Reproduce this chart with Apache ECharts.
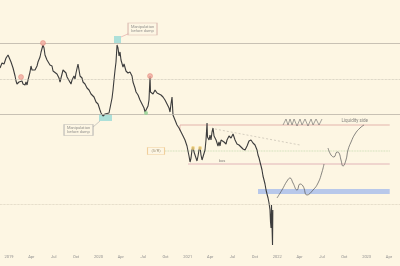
<!DOCTYPE html>
<html><head><meta charset="utf-8">
<script src="https://cdn.jsdelivr.net/npm/echarts@6/dist/echarts.min.js"></script>
<style>html,body{margin:0;padding:0;background:#fdf6e3}#c{width:400px;height:266px}</style>
</head><body><div id="c"></div>
<script>
// price path: [month since Jan 2019, price]
const price = [[-1.21,182],[-0.94,187],[-0.67,186],[-0.40,192],[-0.13,195],[0,196],[0.13,193],[0.27,188],[0.54,182],[0.81,174],[0.94,169],[1.07,166],[1.21,164],[1.34,168],[1.48,166],[1.74,169],[1.88,166],[2.15,165],[2.28,168],[2.42,165],[2.55,170],[2.82,178],[2.95,184],[3.09,180],[3.22,182],[3.49,180],[3.76,184],[3.89,188],[4.16,193],[4.30,198],[4.56,205],[4.70,202],[4.83,195],[5.10,190],[5.23,192],[5.50,185],[5.77,184],[5.91,179],[6.17,180],[6.44,176],[6.71,172],[6.85,168],[6.98,172],[7.25,180],[7.38,182],[7.65,177],[7.79,173],[8.05,171],[8.32,166],[8.46,170],[8.72,174],[8.86,171],[8.99,177],[9.26,186],[9.40,180],[9.53,174],[9.80,172],[9.93,168],[10.20,166],[10.47,162],[10.74,160],[11.01,156],[11.14,154],[11.41,153],[11.68,148],[11.81,150],[11.95,146],[12.21,140],[12.35,137],[12.62,134],[12.89,136],[13.15,134],[13.42,137],[13.56,142],[13.83,152],[13.96,160],[14.09,170],[14.23,180],[14.36,188],[14.50,205],[14.63,202],[14.77,194],[14.90,198],[15.03,190],[15.30,183],[15.44,186],[15.70,179],[15.97,177],[16.24,178],[16.51,174],[16.64,168],[16.91,162],[17.05,158],[17.32,155],[17.58,150],[17.85,146],[18.12,142],[18.26,138],[18.39,137],[18.52,140],[18.66,144],[18.79,150],[18.93,174],[18.99,158],[19.19,160],[19.33,156],[19.60,160],[19.87,157],[20.13,159],[20.40,155],[20.67,153],[20.94,150],[21.21,146],[21.48,142],[21.61,138],[21.74,146],[21.88,153],[22.01,135],[22.28,130],[22.55,125],[22.82,122],[23.09,118],[23.36,114],[23.62,110],[23.89,104],[24.16,94],[24.30,88],[24.43,92],[24.56,100],[24.70,103],[24.83,98],[25.10,92],[25.23,89],[25.37,94],[25.50,100],[25.64,103],[25.77,95],[25.91,90],[26.04,88],[26.17,90],[26.31,100],[26.44,110],[26.58,127],[26.64,113],[26.85,110],[26.98,115],[27.11,110],[27.25,118],[27.38,122],[27.52,114],[27.79,110],[28.05,104],[28.19,108],[28.32,104],[28.46,110],[28.72,112],[28.86,108],[29.13,106],[29.26,110],[29.53,114],[29.80,112],[30.07,116],[30.34,110],[30.60,106],[30.87,105],[31.14,103],[31.41,101],[31.68,100],[31.95,104],[32.21,109],[32.48,110],[32.75,107],[33.02,105],[33.29,100],[33.42,95],[33.56,92],[33.69,88],[33.83,84],[33.96,80],[34.09,74],[34.23,70],[34.36,66],[34.50,60],[34.63,56],[34.77,52],[34.90,47],[35.03,40],[35.10,28],[35.17,22],[35.23,45],[35.30,47],[35.37,5],[35.41,40]];

const tickMonths = [0,3,6,9,12,15,18,21,24,27,30,33,36,39,42,45,48,51];
const tickLabels = ['2019','Apr','Jul','Oct','2020','Apr','Jul','Oct','2021','Apr','Jul','Oct','2022','Apr','Jul','Oct','2023','Apr'];

const fullLevels = [207, 171, 136, 46];
const redLevel = 125, srLevel = 99, bosLevel = 86;
const redStart = 22.95, srStart = 20.94, bosStart = 24.03, zoneEnd = 51.1;
const demandZone = [56, 61], demandStart = 33.42;
const trendline = [[27.65,121],[39.06,105]];
const projection1 = [[35.97,52],[36.64,60],[37.32,69],[37.72,72],[38.12,67],[38.66,60],[39.06,66],[39.46,64],[40.00,55],[40.81,60],[41.48,67],[42.01,78],[42.28,86]];
const projection2 = [[42.82,102],[43.22,95],[43.62,93],[44.03,98],[44.30,97],[44.56,90],[44.83,84],[45.23,90],[45.50,100],[45.91,108],[46.44,116],[47.11,122],[47.65,125]];
const zigzag = [[36.78,125],[37.18,131],[37.45,125],[37.72,131],[37.99,125],[38.26,131],[38.66,124],[39.06,131],[39.33,125],[39.73,131],[40.13,124],[40.54,131],[40.81,125],[41.21,131],[41.61,125],[42.01,131]];
const redDots = [[4.56,207],[1.61,173],[18.93,174]];
const greenDots = [[18.39,137]];
const yellowDots = [[24.70,102],[25.64,102]];
const cyanMarks = [[14.56,210.5],[12.95,132.5]];
const noteTop = [17.92,221], noteBottom = [9.33,120], noteSR = [19.73,99];
const connTop = [[16.24,217],[15.03,213]], connBottom = [[11.28,123],[12.21,129]];
const bosText = [28.59,89], liqText = [46.4,129];

const chart = echarts.init(document.getElementById('c'), null, {renderer:'canvas'});
const thin = (c, w, t) => ({color:c, width:w, type:t||'solid'});
const seg = (data, c, w, t, extra) => Object.assign({type:'line', data, symbol:'none', silent:true, lineStyle:thin(c,w,t), z:3, animation:false}, extra||{});
const note = (pos, text, w, h, border, color) => ({type:'scatter', data:[pos], symbol:'rect', symbolSize:[w,h], silent:true, z:6,
  itemStyle:{color:'#fdf6e3', borderColor:border, borderWidth:0.7},
  label:{show:true, position:'inside', formatter:text, fontSize:4, lineHeight:4.5, color:color||'#777', fontFamily:'Roboto'}});
const textAt = (pos, text, size) => ({type:'scatter', data:[pos], symbolSize:0, silent:true, z:6,
  label:{show:true, position:'inside', formatter:text, fontSize:size, color:'#666', fontFamily:'Roboto'}});

chart.setOption({
  backgroundColor:'#fdf6e3',
  animation:false,
  grid:{left:0, right:0, top:0, bottom:16},
  xAxis:{type:'value', min:-1.21, max:52.48, splitLine:{show:false}, axisLine:{show:false}, axisTick:{show:false},
    axisLabel:{customValues:tickMonths, formatter:v=>tickLabels[tickMonths.indexOf(v)], fontSize:4, color:'#8c8c8c', margin:5, fontFamily:'Roboto'}},
  yAxis:{type:'value', min:0, max:250, show:false, splitLine:{show:false}},
  series:[
    {type:'line', data:[], silent:true,
      markLine:{symbol:'none', silent:true, label:{show:false},
        data:[
          {yAxis:fullLevels[0], lineStyle:thin('#bab4a8',0.8)},
          {yAxis:fullLevels[1], lineStyle:thin('#bdb7aa',0.7,'dotted')},
          {yAxis:fullLevels[2], lineStyle:thin('#bab4a8',0.8)},
          {yAxis:fullLevels[3], lineStyle:thin('#cfc6b2',0.7,'dotted')}
        ]},
      markArea:{silent:true, itemStyle:{color:'#b8c8ea'},
        data:[[{xAxis:demandStart, yAxis:demandZone[0]},{xAxis:zoneEnd, yAxis:demandZone[1]}]]}
    },
    seg([[redStart,redLevel],[zoneEnd,redLevel]], '#dca5a0', 0.8),
    seg([[redStart,redLevel],[redStart,119]], '#dca5a0', 0.7),
    seg([[srStart,srLevel],[zoneEnd,srLevel]], '#bcd6a6', 0.8, 'dotted'),
    seg([[bosStart,bosLevel],[zoneEnd,bosLevel]], '#d9a5ad', 0.8),
    seg(trendline, '#b8b2a6', 0.6, [2,2]),
    seg(connTop, '#e0a0a0', 0.6),
    seg(connBottom, '#aaa', 0.6),
    {type:'scatter', data:cyanMarks.slice(0,1), symbol:'rect', symbolSize:[7,7], silent:true, z:2, itemStyle:{color:'rgba(120,210,210,0.75)'}},
    {type:'scatter', data:cyanMarks.slice(1), symbol:'rect', symbolSize:[13,7], silent:true, z:2, itemStyle:{color:'rgba(120,210,210,0.75)'}},
    {type:'line', data:price, symbol:'none', silent:true, z:4, lineStyle:{color:'#3c3c3c', width:1.1}},
    {type:'scatter', data:redDots, symbolSize:5, silent:true, z:5, itemStyle:{color:'#f0a89c', borderColor:'#e07a6c', borderWidth:0.5}},
    {type:'scatter', data:greenDots, symbolSize:4, silent:true, z:5, itemStyle:{color:'#8fd08f'}},
    {type:'scatter', data:yellowDots, symbolSize:4, silent:true, z:5, itemStyle:{color:'#f2d27c'}},
    seg(projection1, '#555', 0.7, 'solid', {smooth:0.5}),
    seg(projection2, '#555', 0.7, 'solid', {smooth:0.5}),
    seg(zigzag, '#666', 0.6),
    note(noteTop, 'Manipulation\nbefore dump', 29, 12, '#cfa8a0'),
    note(noteBottom, 'Manipulation\nbefore dump', 29, 11, '#aaa'),
    note(noteSR, '(S/R)', 17, 7, '#eec68a', '#8a7a60'),
    textAt(bosText, 'bos', 4),
    textAt(liqText, 'Liquidity side', 4.5)
  ]
});
</script></body></html>
